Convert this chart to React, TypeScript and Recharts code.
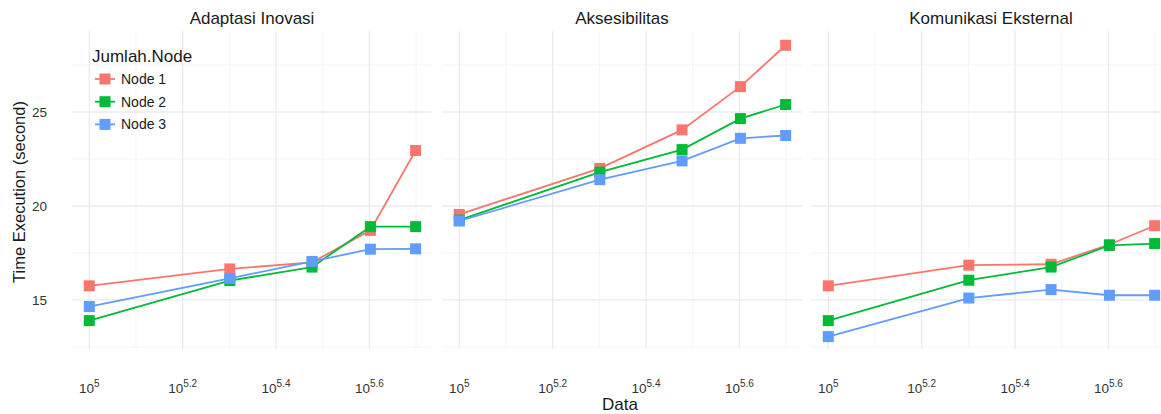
import React from "react";
import { Line, LineChart, ReferenceLine, XAxis, YAxis } from "recharts";

// data sizes on a log10 axis
const dataSizes = [100000, 200000, 300000, 400000, 500000];
const nodeNames = ["Node 1", "Node 2", "Node 3"];
const nodeColors = ["#F8766D", "#00BA38", "#619CFF"];
const facetTitles = ["Adaptasi Inovasi", "Aksesibilitas", "Komunikasi Eksternal"];

const adaptasiNode1 = [15.75, 16.65, 17.0, 18.7, 22.95];
const adaptasiNode2 = [13.9, 16.03, 16.75, 18.9, 18.9];
const adaptasiNode3 = [14.65, 16.15, 17.05, 17.7, 17.72];

const aksesNode1 = [19.55, 22.0, 24.05, 26.35, 28.55];
const aksesNode2 = [19.25, 21.8, 23.0, 24.65, 25.4];
const aksesNode3 = [19.2, 21.4, 22.4, 23.6, 23.75];

const komunikasiNode1 = [15.75, 16.85, 16.9, 17.95, 18.95];
const komunikasiNode2 = [13.9, 16.05, 16.75, 17.9, 18.0];
const komunikasiNode3 = [13.05, 15.1, 15.55, 15.25, 15.25];

const xTicks = [10 ** 5, 10 ** 5.2, 10 ** 5.4, 10 ** 5.6];
const xMinor = [10 ** 5.1, 10 ** 5.3, 10 ** 5.5, 10 ** 5.7];
const yTicks = [15, 20, 25];
const yMinor = [12.5, 17.5, 22.5, 27.5];

const xDomain = [10 ** 4.963, 10 ** 5.734];
const yDomain = [12.39, 29.31];

const FONT = "'Liberation Sans', Arial, sans-serif";
const PLOT_W = 360;
const Y_AXIS_W = 72;
const panelLefts = [72, 442, 811];

function PowerTick(props: any) {
  const { x, y, payload } = props;
  const exp = Math.round(Math.log10(payload.value) * 10) / 10;
  return (
    <text x={x} y={y + 42} textAnchor="middle" fill="#333" fontSize={13.5} fontFamily={FONT}>
      <tspan>10</tspan>
      <tspan dy={-6} fontSize={10}>{String(exp)}</tspan>
    </text>
  );
}

function squareDot(color: string) {
  return (props: any) => {
    const { cx, cy, index } = props;
    if (cx == null || cy == null) return <g key={index} />;
    return <rect key={index} x={cx - 5.5} y={cy - 5.5} width={11} height={11} fill={color} />;
  };
}

function Facet({ series, left, showY }: { series: number[][]; left: number; showY: boolean }) {
  const rows = dataSizes.map((d, i) => ({
    data: d,
    n1: series[0][i],
    n2: series[1][i],
    n3: series[2][i]
  }));
  const keys = ["n1", "n2", "n3"];
  const width = PLOT_W + (showY ? Y_AXIS_W : 0);
  return (
    <div style={{ position: "absolute", left: showY ? left - Y_AXIS_W : left, top: 0 }}>
      <LineChart width={width} height={414} data={rows} margin={{ top: 31, right: 0, bottom: 25, left: 0 }}>
        <XAxis
          dataKey="data"
          type="number"
          scale="log"
          domain={xDomain}
          allowDataOverflow
          ticks={xTicks}
          tick={<PowerTick />}
          tickLine={false}
          axisLine={false}
          tickSize={0}
          height={40}
          interval={0}
        />
        <YAxis
          type="number"
          domain={yDomain}
          allowDataOverflow
          ticks={yTicks}
          hide={!showY}
          width={Y_AXIS_W}
          tickLine={false}
          axisLine={false}
          tickSize={0}
          tickMargin={25}
          tick={{ fill: "#333", fontSize: 13.5, fontFamily: FONT }}
        />
        {yMinor.map((v) => (
          <ReferenceLine key={"ym" + v} y={v} stroke="#f3f3f3" strokeWidth={0.8} />
        ))}
        {xMinor.map((v) => (
          <ReferenceLine key={"xm" + v} x={v} stroke="#f3f3f3" strokeWidth={0.8} />
        ))}
        {yTicks.map((v) => (
          <ReferenceLine key={"y" + v} y={v} stroke="#ebebeb" strokeWidth={1.3} />
        ))}
        {xTicks.map((v) => (
          <ReferenceLine key={"x" + v} x={v} stroke="#ebebeb" strokeWidth={1.3} />
        ))}
        {keys.map((k, i) => (
          <Line
            key={k}
            dataKey={k}
            name={nodeNames[i]}
            type="linear"
            stroke={nodeColors[i]}
            strokeWidth={1.8}
            dot={squareDot(nodeColors[i])}
            activeDot={false}
            isAnimationActive={false}
          />
        ))}
      </LineChart>
    </div>
  );
}

export default function App() {
  const facets = [
    [adaptasiNode1, adaptasiNode2, adaptasiNode3],
    [aksesNode1, aksesNode2, aksesNode3],
    [komunikasiNode1, komunikasiNode2, komunikasiNode3]
  ];
  return (
    <div
      style={{
        position: "absolute",
        left: 0,
        top: 0,
        width: 1161,
        height: 414,
        overflow: "hidden",
        background: "#fff",
        fontFamily: FONT
      }}
    >
      {facets.map((s, i) => (
        <Facet key={i} series={s} left={panelLefts[i]} showY={i === 0} />
      ))}
      <svg width={1161} height={414} style={{ position: "absolute", left: 0, top: 0, pointerEvents: "none" }}>
        {facetTitles.map((t, i) => (
          <text key={t} x={panelLefts[i] + PLOT_W / 2} y={24} textAnchor="middle" fontSize={17} fill="#1a1a1a" fontFamily={FONT}>
            {t}
          </text>
        ))}
        <text x={620} y={410} textAnchor="middle" fontSize={17} fill="#1a1a1a" fontFamily={FONT}>
          Data
        </text>
        <text
          transform="translate(25, 192) rotate(-90)"
          textAnchor="middle"
          fontSize={16.5}
          fill="#1a1a1a"
          fontFamily={FONT}
        >
          Time Execution (second)
        </text>
        <text x={92} y={62} fontSize={17} fill="#1a1a1a" fontFamily={FONT}>
          Jumlah.Node
        </text>
        {nodeNames.map((n, i) => {
          const cy = 79 + i * 22.7;
          return (
            <g key={n}>
              <line x1={95} x2={115} y1={cy} y2={cy} stroke={nodeColors[i]} strokeWidth={1.8} />
              <rect x={99.5} y={cy - 5.5} width={11} height={11} fill={nodeColors[i]} />
              <text x={121} y={cy + 5} fontSize={14} fill="#1a1a1a" fontFamily={FONT}>
                {n}
              </text>
            </g>
          );
        })}
      </svg>
    </div>
  );
}
